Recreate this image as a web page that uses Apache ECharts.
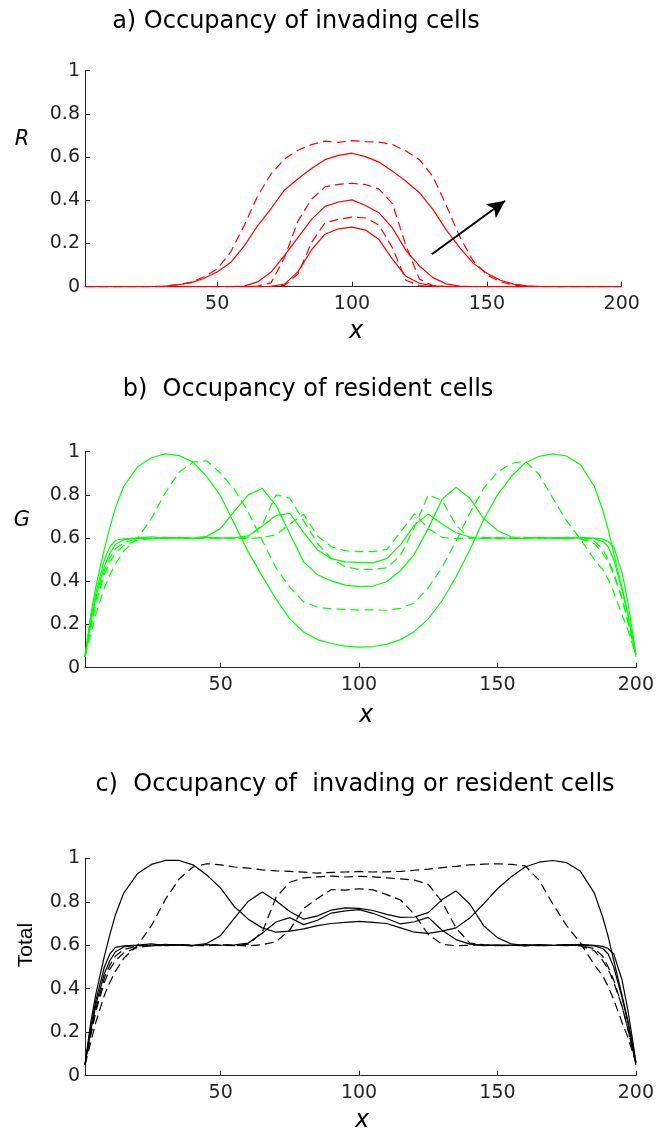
<!DOCTYPE html>
<html>
<head>
<meta charset="utf-8">
<title>Occupancy profiles</title>
<script src="https://cdn.jsdelivr.net/npm/echarts@6/dist/echarts.min.js"></script>
<style>
html, body { margin: 0; padding: 0; background: #fff; }
#box { width: 657px; height: 1130px; }
</style>
</head>
<body>
<div id="box"></div>
<script>
// lattice column of every sample
var X = [1, 3, 5, 8, 10, 12, 15,
    20, 25, 30, 35, 40, 45, 50, 55, 60, 65,
    70, 75, 80, 85, 90, 95, 100, 105, 110, 115,
    120, 125, 130, 135, 140, 145, 150, 155, 160, 165,
    170, 175, 180, 185,
    188, 190, 192, 195, 197, 199, 200];

var xTicks = [50, 100, 150, 200];

// a) invading cells R, solid (s) and dashed (d), three of each
var rS1 = [0, 0, 0, 0, 0, 0, 0,
    0, 0, 0, 0, 0, 0, 0, 0, 0, 0,
    0.002, 0.012, 0.07, 0.17, 0.243, 0.268, 0.276, 0.262, 0.218, 0.128,
    0.048, 0.016, 0.004, 0.001, 0, 0, 0, 0, 0, 0,
    0, 0, 0, 0,
    0, 0, 0, 0, 0, 0, 0];
var rD1 = [0, 0, 0, 0, 0, 0, 0,
    0, 0, 0, 0, 0, 0, 0, 0, 0, 0,
    0.001, 0.006, 0.06, 0.205, 0.296, 0.312, 0.322, 0.318, 0.285, 0.18,
    0.03, 0.005, 0.001, 0, 0, 0, 0, 0, 0, 0,
    0, 0, 0, 0,
    0, 0, 0, 0, 0, 0, 0];
var rS2 = [0, 0, 0, 0, 0, 0, 0,
    0, 0, 0, 0, 0, 0, 0, 0, 0.003, 0.022,
    0.068, 0.145, 0.228, 0.312, 0.372, 0.392, 0.402, 0.376, 0.342, 0.272,
    0.168, 0.096, 0.042, 0.013, 0.003, 0.001, 0, 0, 0, 0,
    0, 0, 0, 0,
    0, 0, 0, 0, 0, 0, 0];
var rD2 = [0, 0, 0, 0, 0, 0, 0,
    0, 0, 0, 0, 0, 0, 0, 0, 0, 0.003,
    0.018, 0.135, 0.305, 0.405, 0.462, 0.474, 0.479, 0.473, 0.452, 0.385,
    0.19, 0.035, 0.005, 0.001, 0, 0, 0, 0, 0, 0,
    0, 0, 0, 0,
    0, 0, 0, 0, 0, 0, 0];
var rS3 = [0, 0, 0, 0, 0, 0, 0,
    0, 0.001, 0.002, 0.008, 0.018, 0.038, 0.068, 0.112, 0.188, 0.282,
    0.362, 0.448, 0.5, 0.547, 0.588, 0.608, 0.618, 0.602, 0.577, 0.535,
    0.488, 0.435, 0.358, 0.262, 0.18, 0.108, 0.062, 0.03, 0.012, 0.004,
    0.001, 0, 0, 0,
    0, 0, 0, 0, 0, 0, 0];
var rD3 = [0, 0, 0, 0, 0, 0, 0,
    0, 0.001, 0.003, 0.008, 0.02, 0.045, 0.082, 0.16, 0.282, 0.42,
    0.522, 0.592, 0.632, 0.658, 0.674, 0.668, 0.676, 0.672, 0.669, 0.658,
    0.628, 0.588, 0.51, 0.375, 0.23, 0.118, 0.055, 0.023, 0.008, 0.002,
    0, 0, 0, 0,
    0, 0, 0, 0, 0, 0, 0];

// b) resident cells G
var gS1 = [0.05, 0.2, 0.33, 0.47, 0.53, 0.57, 0.592,
    0.6, 0.597, 0.604, 0.6, 0.598, 0.603, 0.6, 0.602, 0.61, 0.655,
    0.705, 0.715, 0.625, 0.545, 0.505, 0.49, 0.488, 0.485, 0.505, 0.57,
    0.66, 0.712, 0.665, 0.625, 0.605, 0.598, 0.602, 0.6, 0.597, 0.603,
    0.6, 0.598, 0.604, 0.6,
    0.595, 0.585, 0.56, 0.44, 0.31, 0.15, 0.06];
var gD1 = [0.05, 0.19, 0.31, 0.45, 0.51, 0.55, 0.58,
    0.597, 0.6, 0.598, 0.603, 0.6, 0.598, 0.602, 0.6, 0.597, 0.603,
    0.615, 0.665, 0.71, 0.61, 0.56, 0.542, 0.538, 0.537, 0.548, 0.628,
    0.712, 0.645, 0.603, 0.598, 0.6, 0.603, 0.598, 0.6, 0.602, 0.598,
    0.6, 0.603, 0.598, 0.585,
    0.55, 0.5, 0.44, 0.32, 0.22, 0.11, 0.06];
var gS2 = [0.05, 0.22, 0.35, 0.5, 0.56, 0.59, 0.597,
    0.601, 0.606, 0.598, 0.603, 0.6, 0.608, 0.645, 0.725, 0.8, 0.83,
    0.752, 0.62, 0.49, 0.43, 0.402, 0.382, 0.375, 0.378, 0.398, 0.45,
    0.525, 0.645, 0.78, 0.835, 0.785, 0.69, 0.635, 0.606, 0.598, 0.602,
    0.599, 0.603, 0.6, 0.597,
    0.585, 0.56, 0.5, 0.36, 0.25, 0.12, 0.05];
var gD2 = [0.05, 0.18, 0.3, 0.43, 0.49, 0.53, 0.565,
    0.59, 0.598, 0.603, 0.6, 0.597, 0.604, 0.6, 0.598, 0.605, 0.66,
    0.8, 0.785, 0.68, 0.575, 0.505, 0.468, 0.455, 0.455, 0.462, 0.52,
    0.65, 0.8, 0.775, 0.66, 0.6, 0.603, 0.598, 0.6, 0.603, 0.598,
    0.6, 0.602, 0.597, 0.575,
    0.53, 0.49, 0.43, 0.32, 0.22, 0.11, 0.06];
var gS3 = [0.05, 0.24, 0.38, 0.55, 0.65, 0.74, 0.84,
    0.93, 0.972, 0.99, 0.982, 0.952, 0.885, 0.795, 0.665, 0.535, 0.425,
    0.318, 0.226, 0.165, 0.13, 0.112, 0.1, 0.095, 0.098, 0.108, 0.13,
    0.168, 0.226, 0.31, 0.42, 0.545, 0.685, 0.8, 0.885, 0.948, 0.978,
    0.99, 0.98, 0.94, 0.84,
    0.73, 0.64, 0.53, 0.37, 0.26, 0.13, 0.06];
var gD3 = [0.05, 0.15, 0.25, 0.37, 0.43, 0.48, 0.54,
    0.6, 0.69, 0.81, 0.905, 0.952, 0.958, 0.9, 0.825, 0.72, 0.59,
    0.462, 0.372, 0.305, 0.28, 0.272, 0.27, 0.267, 0.268, 0.266, 0.275,
    0.3, 0.37, 0.465, 0.585, 0.715, 0.83, 0.905, 0.946, 0.956, 0.895,
    0.785, 0.68, 0.595, 0.5,
    0.455, 0.41, 0.35, 0.245, 0.18, 0.1, 0.06];

// c) total occupancy
var tS1 = [0.05, 0.2, 0.33, 0.47, 0.53, 0.57, 0.592,
    0.6, 0.597, 0.604, 0.6, 0.598, 0.603, 0.6, 0.602, 0.61, 0.655,
    0.707, 0.727, 0.695, 0.715, 0.748, 0.758, 0.764, 0.747, 0.723, 0.698,
    0.708, 0.728, 0.669, 0.626, 0.605, 0.598, 0.602, 0.6, 0.597, 0.603,
    0.6, 0.598, 0.604, 0.6,
    0.595, 0.585, 0.56, 0.44, 0.31, 0.15, 0.06];
var tD1 = [0.05, 0.19, 0.31, 0.45, 0.51, 0.55, 0.58,
    0.597, 0.6, 0.598, 0.603, 0.6, 0.598, 0.602, 0.6, 0.597, 0.603,
    0.616, 0.671, 0.77, 0.815, 0.856, 0.854, 0.86, 0.855, 0.833, 0.808,
    0.742, 0.65, 0.604, 0.598, 0.6, 0.603, 0.598, 0.6, 0.602, 0.598,
    0.6, 0.603, 0.598, 0.585,
    0.55, 0.5, 0.44, 0.32, 0.22, 0.11, 0.06];
var tS2 = [0.05, 0.22, 0.35, 0.5, 0.56, 0.59, 0.597,
    0.601, 0.606, 0.598, 0.603, 0.6, 0.608, 0.645, 0.725, 0.803, 0.845,
    0.805, 0.755, 0.72, 0.735, 0.762, 0.772, 0.77, 0.76, 0.742, 0.728,
    0.73, 0.75, 0.81, 0.85, 0.79, 0.69, 0.635, 0.606, 0.598, 0.602,
    0.599, 0.603, 0.6, 0.597,
    0.585, 0.56, 0.5, 0.36, 0.25, 0.12, 0.05];
var tD2 = [0.05, 0.18, 0.3, 0.43, 0.49, 0.53, 0.565,
    0.59, 0.598, 0.603, 0.6, 0.597, 0.604, 0.6, 0.598, 0.605, 0.66,
    0.82, 0.89, 0.91, 0.915, 0.918, 0.914, 0.917, 0.915, 0.91, 0.905,
    0.9, 0.88, 0.8, 0.68, 0.61, 0.603, 0.598, 0.6, 0.603, 0.598,
    0.6, 0.602, 0.597, 0.575,
    0.53, 0.49, 0.43, 0.32, 0.22, 0.11, 0.06];
var tS3 = [0.05, 0.24, 0.38, 0.55, 0.65, 0.74, 0.84,
    0.93, 0.972, 0.99, 0.99, 0.97, 0.923, 0.863, 0.777, 0.72, 0.68,
    0.66, 0.665, 0.675, 0.69, 0.7, 0.705, 0.71, 0.705, 0.7, 0.68,
    0.66, 0.655, 0.665, 0.68, 0.725, 0.79, 0.86, 0.915, 0.96, 0.982,
    0.99, 0.98, 0.94, 0.84,
    0.73, 0.64, 0.53, 0.37, 0.26, 0.13, 0.06];
var tD3 = [0.05, 0.15, 0.25, 0.37, 0.43, 0.48, 0.54,
    0.6, 0.69, 0.81, 0.905, 0.96, 0.975, 0.97, 0.96, 0.955, 0.947,
    0.942, 0.94, 0.936, 0.932, 0.935, 0.937, 0.94, 0.937, 0.938, 0.94,
    0.945, 0.95, 0.957, 0.963, 0.97, 0.973, 0.975, 0.972, 0.965, 0.9,
    0.79, 0.69, 0.61, 0.51,
    0.46, 0.41, 0.35, 0.245, 0.18, 0.1, 0.06];

// arrow in panel a (data coords, shows direction of time)
var arrowFrom = [129.6, 0.15];
var arrowTo = [156.8, 0.398];

var axisCol = '#262626';
var tickFont = '"DejaVu Sans", sans-serif';

function xAx(i) {
    return {
        gridIndex: i, type: 'value', min: 1, max: 200,
        axisLine: { onZero: false, lineStyle: { color: axisCol, width: 1 } },
        axisTick: { inside: true, length: 5, customValues: xTicks, lineStyle: { color: axisCol } },
        axisLabel: { customValues: xTicks, color: axisCol, fontSize: 19, fontFamily: tickFont, margin: 8 },
        splitLine: { show: false }
    };
}

function yAx(i) {
    return {
        gridIndex: i, type: 'value', min: 0, max: 1, interval: 0.2,
        axisLine: { show: true, onZero: false, lineStyle: { color: axisCol, width: 1 } },
        axisTick: { show: true, inside: true, length: 5, lineStyle: { color: axisCol } },
        axisLabel: { color: axisCol, fontSize: 19, fontFamily: tickFont, margin: 5 },
        splitLine: { show: false }
    };
}

function line(i, vals, color, dashed) {
    return {
        type: 'line', xAxisIndex: i, yAxisIndex: i,
        data: X.map(function(x, k) { return [x, vals[k]]; }),
        symbol: 'none', showSymbol: false, silent: true,
        lineStyle: { color: color, width: 1.2, type: dashed ? [9, 5] : 'solid' }
    };
}

function txt(s, x, y, size, italic, family) {
    return {
        type: 'text', x: x, y: y,
        style: {
            text: s, fill: '#000', fontSize: size, fontStyle: italic ? 'italic' : 'normal',
            fontFamily: family || tickFont, textAlign: 'center', textVerticalAlign: 'middle'
        }
    };
}

var red = '#ff0000', green = '#00ff00', black = '#000000';

var series = [
    line(0, rS1, red, false), line(0, rD1, red, true),
    line(0, rS2, red, false), line(0, rD2, red, true),
    line(0, rS3, red, false), line(0, rD3, red, true),
    line(1, gS1, green, false), line(1, gD1, green, true),
    line(1, gS2, green, false), line(1, gD2, green, true),
    line(1, gS3, green, false), line(1, gD3, green, true),
    line(2, tS1, black, false), line(2, tD1, black, true),
    line(2, tS2, black, false), line(2, tD2, black, true),
    line(2, tS3, black, false), line(2, tD3, black, true)
];

//箭头
series[0].markLine = {
    silent: true, animation: false,
    symbol: ['none', 'arrow'], symbolSize: [13, 18],
    label: { show: false },
    lineStyle: { color: '#000', width: 2, type: 'solid' },
    data: [[{ coord: arrowFrom }, { coord: arrowTo }]]
};

var rot = txt('Total', 26, 945, 21, false, '"Liberation Sans", Arial, sans-serif');
rot.rotation = Math.PI / 2;

var myChart = echarts.init(document.getElementById('box'), null, { renderer: 'canvas' });
myChart.setOption({
    animation: false,
    backgroundColor: '#fff',
    grid: [
        { left: 85, top: 70.7, width: 536.7, height: 216 },
        { left: 85, top: 451.7, width: 553.3, height: 216 },
        { left: 85, top: 858.3, width: 553.3, height: 217.4 }
    ],
    xAxis: [xAx(0), xAx(1), xAx(2)],
    yAxis: [yAx(0), yAx(1), yAx(2)],
    series: series,
    graphic: [
        txt('a) Occupancy of invading cells', 296, 22, 24),
        txt('b)  Occupancy of resident cells', 308, 390, 24),
        txt('c)  Occupancy of  invading or resident cells', 355, 785, 24),
        txt('R', 22, 140, 21, true),
        txt('G', 22, 521, 21, true),
        rot,
        txt('x', 356, 332, 24, true),
        txt('x', 366, 716, 24, true),
        txt('x', 362, 1121, 24, true)
    ]
});
</script>
</body>
</html>
